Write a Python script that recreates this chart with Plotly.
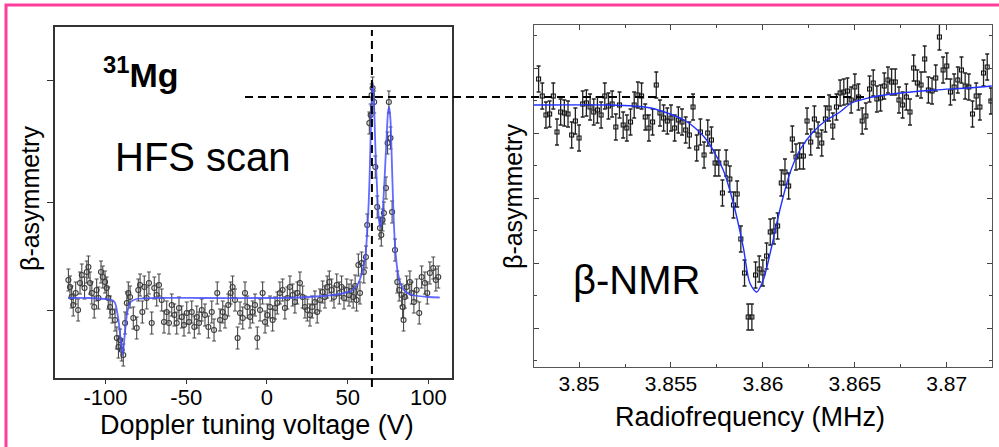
import plotly.graph_objects as go

# ---------------- Left panel: HFS scan (Doppler tuning voltage) ----------------
HFS_V = [-123, -122, -121, -120, -118.5, -117, -115.8, -114.7, -113, -111.6,
         -110.6, -109.6, -108.5, -107, -105.5, -104.4, -102.8, -101.7, -100.3, -99.3,
         -98.3, -97.2, -95.8, -94.1, -93, -92, -91, -90, -89, -87.9,
         -86.8, -85.9, -84.8, -82.8, -80.7, -79.7, -78.6, -77.2, -76, -74.5,
         -73.1, -71.4, -69.8, -68.3, -66.9, -65.2, -63.8, -62.1, -60.7, -59,
         -57.4, -55.9, -54.5, -52.8, -51.4, -49.7, -48.3, -46.6, -45, -43.5,
         -42.1, -40.4, -38.4, -36.3, -34.2, -32.8, -30.8, -29.1, -27.4, -26,
         -24, -22.5, -21.3, -19.8, -18.2, -16.7, -15, -13.6, -12.2, -10.5,
         -8.9, -7.4, -6, -4.3, -2.7, -1.2, 0.2, 1.9, 3.5, 5,
         6.4, 8, 9.7, 11.1, 12.6, 14.2, 15.9, 17.3, 18.8, 20.4,
         22.1, 23.5, 25, 26.6, 28, 29.7, 31.1, 32.8, 34.5, 35.9,
         37.3, 38.6, 40, 41.5, 43.2, 44.8, 46.2, 47.7, 49.4, 50.8,
         52.2, 53.4, 54.6, 55.5, 56.6, 57.6, 58.6, 60, 61.3, 62.1,
         63.4, 64.2, 64.8, 65.4, 66.4, 67.1, 68.3, 70, 70.8, 71.6,
         72.4, 73.7, 74.7, 75.5, 76.5, 77.5, 79.3, 80.7, 81.9, 83.4,
         84, 84.6, 85.4, 86.5, 88.5, 89.6, 91, 92.7, 94.3, 95.8,
         97.8, 99.3, 100.9, 103, 104.6, 106.1]
HFS_ASYM = [0.30, 0.23, 0.13, 0.05, 0.17, 0.00, 0.27, 0.35, 0.22, 0.38,
            0.43, 0.27, 0.17, 0.03, 0.20, 0.12, 0.38, 0.33, 0.28, 0.22,
            0.12, 0.03, -0.02, -0.10, -0.28, -0.37, -0.30, -0.40, -0.45, -0.13,
            0.07, 0.17, 0.13, -0.08, -0.18, 0.20, 0.25, -0.02, 0.23, 0.12,
            0.27, -0.13, 0.22, 0.15, 0.25, 0.10, -0.12, -0.02, -0.13, 0.05,
            -0.05, -0.13, 0.02, -0.07, -0.15, -0.03, -0.12, -0.02, -0.17, -0.07,
            -0.13, 0.00, -0.05, -0.17, -0.02, -0.20, 0.17, -0.10, -0.02, -0.07,
            0.05, 0.17, 0.23, 0.10, -0.28, -0.03, -0.08, 0.17, 0.03, -0.07,
            -0.02, 0.05, -0.28, 0.00, 0.17, -0.12, -0.05, 0.03, -0.10, 0.02,
            0.07, 0.17, 0.20, 0.02, 0.12, 0.23, 0.15, 0.08, 0.17, 0.27,
            0.13, 0.03, 0.00, -0.05, 0.03, 0.08, -0.02, 0.10, 0.18, 0.13,
            0.23, 0.28, 0.20, 0.13, 0.25, 0.17, 0.23, 0.12, 0.20, 0.15,
            0.19, 0.13, 0.24, 0.10, 0.45, 0.17, 0.47, 0.38, 0.53, 0.85,
            1.87, 1.95, 2.15, 2.22, 2.08, 1.43, 1.03, 0.82, 0.75, 0.90,
            0.97, 1.22, 1.67, 2.08, 1.72, 0.98, 0.60, 0.28, 0.20, 0.15,
            0.03, -0.10, 0.13, 0.23, 0.28, 0.17, 0.08, 0.20, -0.03, 0.33,
            0.27, 0.17, 0.37, 0.42, 0.30, 0.33]
HFS_ERR = 0.11

HFS_FIT_V = [-123, -110, -100, -96, -94.1, -92, -90.6, -89.4, -88, -86.5,
             -84.4, -80.9, -70, -40, 0, 20, 35, 45, 52, 56,
             59, 61, 62.5, 63.5, 64.5, 65.4, 66.2, 67.2, 68.5, 69.5,
             70.4, 71.5, 72.8, 74, 75, 75.7, 76.5, 77.5, 78.5, 79.5,
             81, 83, 86, 90, 100, 107]
HFS_FIT_A = [0.12, 0.12, 0.11, 0.10, 0.07, -0.10, -0.30, -0.45, -0.23, -0.02,
             0.08, 0.11, 0.12, 0.12, 0.12, 0.125, 0.14, 0.16, 0.19, 0.25,
             0.38, 0.55, 0.90, 1.30, 1.90, 2.28, 2.10, 1.60, 1.10, 0.88,
             0.83, 0.95, 1.30, 1.70, 1.98, 2.03, 1.90, 1.40, 0.90, 0.60,
             0.38, 0.25, 0.18, 0.15, 0.13, 0.125]

HFS_XTICKS = [-100, -50, 0, 50, 100]
HFS_XTICKTEXT = ["-100", "-50", "0", "50", "100"]
HFS_YTICKS = [0, 1.08, 2.30]
PEAK_VOLTAGE = 65        # vertical dashed marker (V)
PEAK_LEVEL = 2.13        # horizontal dashed marker (asymmetry units of left axis)

# ---------------- Right panel: beta-NMR (radiofrequency) ----------------
NMR_F = [3.8478, 3.8480, 3.8482, 3.8484, 3.8486, 3.8488, 3.8490, 3.8492, 3.8494, 3.8496,
         3.8498, 3.8500, 3.8502, 3.8504, 3.8506, 3.8508, 3.8510, 3.8512, 3.8514, 3.8516,
         3.8518, 3.8520, 3.8522, 3.8524, 3.8526, 3.8528, 3.8530, 3.8532, 3.8534, 3.8536,
         3.8538, 3.8540, 3.8542, 3.8544, 3.8546, 3.8548, 3.8550, 3.8552, 3.8554, 3.8556,
         3.8558, 3.8560, 3.8562, 3.8564, 3.8566, 3.8568, 3.8570, 3.8572, 3.8574, 3.8576,
         3.8578, 3.8580, 3.8582, 3.8584, 3.8586, 3.8588, 3.8590, 3.8592, 3.8594, 3.8596,
         3.8598, 3.8600, 3.8602, 3.8604, 3.8606, 3.8608, 3.8610, 3.8612, 3.8614, 3.8616,
         3.8618, 3.8620, 3.8622, 3.8624, 3.8626, 3.8628, 3.8630, 3.8632, 3.8634, 3.8636,
         3.8638, 3.8640, 3.8642, 3.8644, 3.8646, 3.8648, 3.8650, 3.8652, 3.8654, 3.8656,
         3.8658, 3.8660, 3.8662, 3.8664, 3.8666, 3.8668, 3.8670, 3.8672, 3.8674, 3.8676,
         3.8678, 3.8680, 3.8682, 3.8684, 3.8686, 3.8688, 3.8690, 3.8692, 3.8694, 3.8696,
         3.8698, 3.8700, 3.8702, 3.8704, 3.8706, 3.8708, 3.8710, 3.8712, 3.8714, 3.8716,
         3.8718, 3.8720, 3.8722, 3.8724]
NMR_ASYM = [2.49, 2.32, 2.13, 2.14, 2.32, 1.96, 2.16, 2.15, 2.14, 1.93,
            2.07, 1.90, 2.24, 2.25, 2.21, 2.16, 2.18, 2.13, 2.32, 2.22,
            2.24, 2.01, 2.23, 2.03, 2.00, 2.06, 2.23, 2.33, 2.32, 2.11,
            2.00, 2.06, 2.43, 2.15, 2.10, 2.07, 2.10, 2.00, 2.08, 2.06,
            1.98, 1.93, 2.21, 1.80, 1.96, 1.73, 1.95, 1.88, 1.65, 1.65,
            1.35, 1.65, 1.49, 1.23, 1.34, 0.89, 0.55, 0.11, 0.11, 0.53,
            0.59, 0.55, 0.72, 0.96, 0.97, 1.02, 1.45, 1.56, 1.42, 1.89,
            1.71, 1.72, 1.72, 2.07, 1.86, 2.09, 1.93, 1.85, 2.09, 2.20,
            2.02, 2.21, 2.35, 2.36, 2.37, 2.28, 2.41, 2.31, 2.07, 2.12,
            2.39, 2.45, 2.29, 2.30, 2.42, 2.48, 2.46, 2.46, 2.28, 2.23,
            2.31, 2.16, 2.60, 2.45, 2.43, 2.69, 2.38, 2.37, 2.50, 2.91,
            2.58, 2.62, 2.36, 2.41, 2.48, 2.58, 2.42, 2.41, 2.14, 2.32,
            2.21, 2.55, 2.61, 2.27]
NMR_ERR = 0.13

NMR_FIT_F = [3.84755, 3.85168, 3.85299, 3.85390, 3.85480, 3.85571, 3.85625, 3.85694,
             3.85784, 3.85839, 3.85893, 3.85929, 3.85966, 3.86002, 3.86047, 3.86092,
             3.86147, 3.86201, 3.86273, 3.86346, 3.86419, 3.86482, 3.86572, 3.86663,
             3.86754, 3.86935, 3.87116, 3.87245]
NMR_FIT_A = [2.23, 2.23, 2.22, 2.20, 2.15, 2.08, 2.01, 1.88,
             1.58, 1.25, 0.81, 0.45, 0.36, 0.48, 0.81, 1.18,
             1.55, 1.78, 1.96, 2.08, 2.16, 2.25, 2.30, 2.33,
             2.35, 2.38, 2.40, 2.42]

NMR_XTICKS = [3.85, 3.855, 3.86, 3.865, 3.87]
NMR_XTICKTEXT = ["3.85", "3.855", "3.86", "3.865", "3.87"]

# ---------------- figure ----------------
W, H = 999, 447
FONT = "Arial, Liberation Sans, sans-serif"
PINK = "#ff3d9c"


def px_x(p):
    return p / W


def px_y(p):
    return 1 - p / H


fig = go.Figure()

fig.add_trace(go.Scatter(
    x=HFS_V, y=HFS_ASYM, mode="markers", xaxis="x", yaxis="y",
    marker=dict(symbol="circle-open", size=5, color="#3c3c3c", line=dict(width=1.1, color="#3c3c3c")),
    error_y=dict(type="constant", value=HFS_ERR, color="#4a4a4a", thickness=1.1, width=2),
    hoverinfo="skip"))
fig.add_trace(go.Scatter(
    x=HFS_FIT_V, y=HFS_FIT_A, mode="lines", xaxis="x", yaxis="y",
    line=dict(color="rgba(70,80,255,0.85)", width=1.8, shape="spline", smoothing=0.7),
    hoverinfo="skip"))

fig.add_trace(go.Scatter(
    x=NMR_F, y=NMR_ASYM, mode="markers", xaxis="x2", yaxis="y2",
    marker=dict(symbol="square-open", size=4, color="#111", line=dict(width=1.1, color="#111")),
    error_y=dict(type="constant", value=NMR_ERR, color="#222", thickness=1.3, width=2),
    hoverinfo="skip"))
fig.add_trace(go.Scatter(
    x=NMR_FIT_F, y=NMR_FIT_A, mode="lines", xaxis="x2", yaxis="y2",
    line=dict(color="#2030ff", width=1.4, shape="spline", smoothing=0.8),
    hoverinfo="skip"))

fig.update_layout(
    width=W, height=H,
    margin=dict(l=0, r=0, t=0, b=0),
    paper_bgcolor="white", plot_bgcolor="white",
    showlegend=False,
    font=dict(family=FONT, color="black"),
    xaxis=dict(domain=[px_x(55), px_x(452)], range=[-131.3, 114.6],
               tickmode="array", tickvals=HFS_XTICKS, ticktext=HFS_XTICKTEXT,
               ticks="outside", ticklen=4, tickwidth=1.3, tickcolor="#333",
               ticklabelstandoff=-5,
               tickfont=dict(family=FONT, size=22, color="black"),
               showline=True, linecolor="#333", linewidth=1.6,
               mirror=True, showgrid=False, zeroline=False, anchor="y"),
    yaxis=dict(domain=[px_y(378), px_y(27)], range=[-0.68, 2.83],
               tickmode="array", tickvals=HFS_YTICKS, showticklabels=False,
               ticks="outside", ticklen=6, tickwidth=1.3, tickcolor="#333",
               showline=True, linecolor="#333", linewidth=1.6,
               mirror=True, showgrid=False, zeroline=False, anchor="x"),
    xaxis2=dict(domain=[px_x(534), px_x(992)], range=[3.84755, 3.87246],
                tickmode="array", tickvals=NMR_XTICKS, ticktext=NMR_XTICKTEXT,
                ticks="inside", ticklen=5, tickwidth=1.2, tickcolor="#444",
                minor=dict(tickmode="linear", tick0=3.8475, dtick=0.0025, ticks="inside",
                           ticklen=3, tickwidth=1, tickcolor="#444", showgrid=False),
                ticklabelstandoff=-2,
                tickfont=dict(family=FONT, size=21, color="black"),
                showline=True, linecolor="#555", linewidth=1.4,
                mirror="ticks", showgrid=False, zeroline=False, anchor="y2"),
    yaxis2=dict(domain=[px_y(367), px_y(25)], range=[-0.39, 3.03],
                tickmode="linear", tick0=0, dtick=0.65, showticklabels=False,
                ticks="inside", ticklen=5, tickwidth=1.2, tickcolor="#444",
                minor=dict(tickmode="linear", tick0=0, dtick=0.325, ticks="inside",
                           ticklen=3, tickwidth=1, tickcolor="#444", showgrid=False),
                showline=True, linecolor="#555", linewidth=1.4,
                mirror="ticks", showgrid=False, zeroline=False, anchor="x2"),
)

# dashed guide lines
fig.add_shape(type="line", xref="x", yref="paper", x0=PEAK_VOLTAGE, x1=PEAK_VOLTAGE,
              y0=px_y(387), y1=px_y(30), line=dict(color="black", width=2, dash="8px,5px"))
fig.add_shape(type="line", xref="paper", yref="y", x0=px_x(245), x1=px_x(870),
              y0=PEAK_LEVEL, y1=PEAK_LEVEL, line=dict(color="black", width=2, dash="8px,5px"))

# pink frame (top and left edges)
fig.add_shape(type="rect", xref="paper", yref="paper", x0=px_x(6), x1=1.05,
              y0=-0.1, y1=px_y(5), line=dict(color=PINK, width=3), fillcolor="rgba(0,0,0,0)")

ann = [
    dict(text="<b><sup>31</sup>Mg</b>", x=px_x(101), y=px_y(72), xanchor="left", yanchor="middle",
         font=dict(family=FONT, size=34, color="black")),
    dict(text="HFS scan", x=px_x(113), y=px_y(157), xanchor="left", yanchor="middle",
         font=dict(family=FONT, size=40, color="black")),
    dict(text="β-NMR", x=px_x(571), y=px_y(280), xanchor="left", yanchor="middle",
         font=dict(family=FONT, size=40, color="black")),
    dict(text="β-asymmetry", x=px_x(30), y=px_y(199), xanchor="center", yanchor="middle",
         textangle=-90, font=dict(family=FONT, size=25, color="black")),
    dict(text="β-asymmetry", x=px_x(513), y=px_y(197), xanchor="center", yanchor="middle",
         textangle=-90, font=dict(family=FONT, size=25, color="black")),
    dict(text="Doppler tuning voltage (V)", x=px_x(257), y=px_y(425), xanchor="center",
         yanchor="middle", font=dict(family=FONT, size=27, color="black")),
    dict(text="Radiofrequency (MHz)", x=px_x(750), y=px_y(417), xanchor="center",
         yanchor="middle", font=dict(family=FONT, size=27, color="black")),
]
for a in ann:
    fig.add_annotation(xref="paper", yref="paper", showarrow=False, **a)

fig.write_html("out.html", config={"displayModeBar": False})
